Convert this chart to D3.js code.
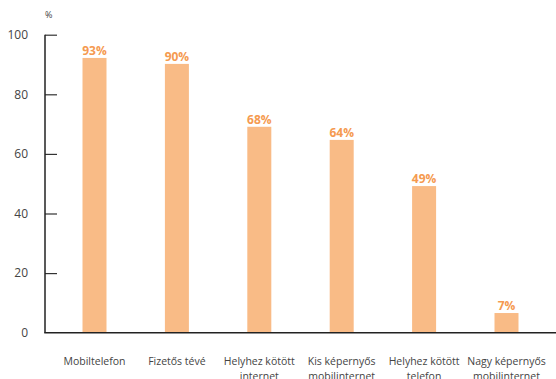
<!DOCTYPE html>
<html>
<head>
<meta charset="utf-8">
<script src="https://cdn.jsdelivr.net/npm/d3@7/dist/d3.min.js"></script>
<style>
    body { margin: 0; background: #fff; }
    svg { display: block; }
    .tick-label { font-family: 'Open Sans', sans-serif; font-size: 12px; fill: #444; }
    .cat-label { font-family: 'Open Sans', sans-serif; font-size: 10.5px; fill: #444; }
    .val-label { font-family: 'Open Sans', sans-serif; font-size: 12px; font-weight: bold; fill: #f59a50; }
</style>
</head>
<body>
<div id="chart"></div>
<script>
var categories = ['Mobiltelefon', 'Fizetős tévé', 'Helyhez kötött internet', 'Kis képernyős mobilinternet', 'Helyhez kötött telefon', 'Nagy képernyős mobilinternet'];
var values = [92.2, 90.2, 69.1, 64.7, 49.2, 6.6];
var valueLabels = ['93%', '90%', '68%', '64%', '49%', '7%'];
var yTicks = [0, 20, 40, 60, 80, 100];

var _w = 556, _h = 379;
var _left = 45, _top = 34.7, _bottom = 332.7;

var svg = d3.select('#chart').append('svg').attr('width', _w).attr('height', _h);

var y = d3.scaleLinear().domain([0, 100]).range([_bottom, _top]);
var x = d3.scalePoint().domain(categories).range([94.5, 506.5]);
var barW = 24;

// bars
svg.selectAll('rect.bar')
    .data(values)
    .enter()
    .append('rect')
    .attr('class', 'bar')
    .attr('x', function (d, i) { return x(categories[i]) - barW / 2; })
    .attr('y', function (d) { return y(d); })
    .attr('width', barW)
    .attr('height', function (d) { return _bottom - y(d); })
    .style('fill', '#f9bb86');

// value labels
svg.selectAll('text.val-label')
    .data(values)
    .enter()
    .append('text')
    .attr('class', 'val-label')
    .attr('x', function (d, i) { return x(categories[i]); })
    .attr('y', function (d) { return y(d) - 3; })
    .attr('text-anchor', 'middle')
    .text(function (d, i) { return valueLabels[i]; });

// y axis
var yAxis = d3.axisRight(y).tickValues(yTicks).tickSize(12).tickFormat('');
var gy = svg.append('g').attr('transform', 'translate(' + _left + ',0)').call(yAxis);
gy.select('.domain').remove();
gy.selectAll('.tick line').attr('stroke', '#333').attr('stroke-width', 1.2);
gy.selectAll('.tick').filter(function (d) { return d == 0; }).remove();

svg.selectAll('text.tick-label')
    .data(yTicks)
    .enter()
    .append('text')
    .attr('class', 'tick-label')
    .attr('x', 28)
    .attr('y', function (d) { return y(d); })
    .attr('dy', '0.35em')
    .attr('text-anchor', 'end')
    .text(function (d) { return d; });

svg.append('text')
    .attr('x', 45).attr('y', 18)
    .style('font-family', "'Open Sans', sans-serif")
    .style('font-size', '9px')
    .style('fill', '#444')
    .text('%');

svg.append('line')
    .attr('x1', _left).attr('x2', _left)
    .attr('y1', _top).attr('y2', _bottom)
    .attr('stroke', '#222').attr('stroke-width', 1.5);
svg.append('line')
    .attr('x1', _left - 0.75).attr('x2', _w)
    .attr('y1', _bottom).attr('y2', _bottom)
    .attr('stroke', '#222').attr('stroke-width', 1.5);

// category labels, wrapped
function wrapLines(str, maxW) {
    var words = str.split(' ');
    var lines = [];
    var cur = '';
    var probe = svg.append('text').attr('class', 'cat-label');
    words.forEach(function (word) {
        var test = cur ? cur + ' ' + word : word;
        probe.text(test);
        if (probe.node().getComputedTextLength() > maxW && cur) {
            lines.push(cur);
            cur = word;
        } else {
            cur = test;
        }
    });
    lines.push(cur);
    probe.remove();
    return lines;
}

categories.forEach(function (c) {
    var t = svg.append('text')
        .attr('class', 'cat-label')
        .attr('text-anchor', 'middle')
        .attr('x', x(c))
        .attr('y', 365);
    wrapLines(c, 80).forEach(function (line, i) {
        t.append('tspan').attr('x', x(c)).attr('dy', i == 0 ? 0 : 15).text(line);
    });
});
</script>
</body>
</html>
